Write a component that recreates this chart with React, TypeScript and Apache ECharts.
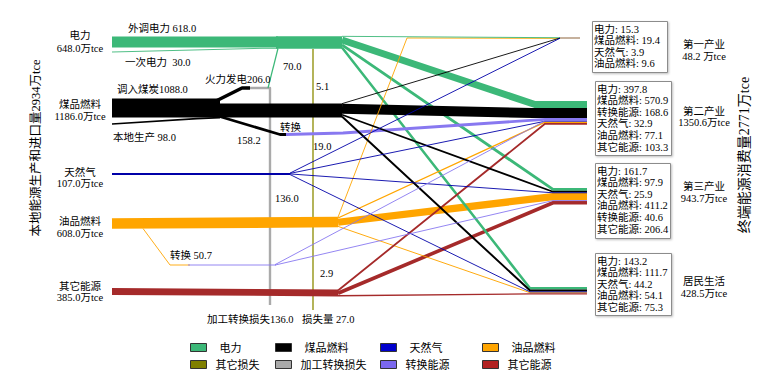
import React, { useEffect, useRef } from 'react';
import * as echarts from 'echarts';

type Pt = [number, number];

// ---------------- DATA ----------------
const sourceNames = ['电力', '煤品燃料', '天然气', '油品燃料', '其它能源'];
const sourceTotals = [648.0, 1186.0, 107.0, 608.0, 385.0];
const sectorNames = ['第一产业', '第二产业', '第三产业', '居民生活'];
const sectorTotals = [48.2, 1350.6, 943.7, 428.5];

const elecImport = 618.0;
const elecPrimary = 30.0;
const coalImport = 1088.0;
const coalLocal = 98.0;
const thermalPower = 206.0;
const thermalToElec = 70.0;
const conversionLoss = 136.0;
const coalToConv = 158.2;
const oilToConv = 50.7;
const otherLosses = [5.1, 19.0, 2.9];
const otherLossTotal = 27.0;
const localTotal = 2934;
const finalTotal = 2771;

// consumption per sector: 第一产业, 第二产业, 第三产业, 居民生活
const elecUse = [15.3, 397.8, 161.7, 143.2];
const coalUse = [19.4, 570.9, 97.9, 111.7];
const gasUse = [3.9, 32.9, 25.9, 44.2];
const oilUse = [9.6, 77.1, 411.2, 54.1];
const convUse = [0, 168.6, 40.6, 0];
const otherUse = [0, 103.3, 206.4, 75.3];

// ---------------- LAYOUT / STYLE ----------------
const K = 1 / 57; // px per 万tce
const MINW = 0.9;
const FONT = "'Liberation Serif', 'Noto Sans CJK SC', serif";
const sum = (a: number[]) => a.reduce((p, c) => p + c, 0);
const wOf = (v: number) => Math.max(v * K, MINW);

const split: Record<string, Pt> = {
  elec: [342, 42.5],
  coal: [342, 110.5],
  gas: [290, 174],
  oil: [338, 222],
  other: [338, 293],
  convOil: [275, 265],
};
const sectorTop = [37.6, 101, 188, 287];
const sectorEnd = [560, 587, 587, 587];
const stackOrder = [
  ['elec', 'coal', 'gas', 'oil'],
  ['elec', 'coal', 'convCoal', 'convOil', 'gas', 'oil', 'other'],
  ['elec', 'coal', 'gas', 'oil', 'convOil', 'other'],
  ['elec', 'coal', 'gas', 'oil', 'other'],
];
const useOf: Record<string, number[]> = {
  elec: elecUse,
  coal: coalUse,
  gas: gasUse,
  oil: oilUse,
  other: otherUse,
  convCoal: [0, coalToConv, 0, 0],
  convOil: convUse.map((v, i) => (i === 1 ? v - coalToConv : v)),
};

function convergeX(s: number, key: string) {
  if (s === 0) return 560;
  if (s === 1) return key === 'elec' ? 535 : key === 'coal' ? 533 : 545;
  if (s === 2) return 553;
  return 530;
}
function slotY(s: number, key: string) {
  let y = sectorTop[s];
  for (const k of stackOrder[s]) {
    const w = useOf[k][s] * K;
    if (k === key) return y + w / 2;
    y += w;
  }
  return y;
}
function srcY(key: string, s: number) {
  const use = useOf[key];
  const cy = split[key][1];
  let y = cy - (sum(use) * K) / 2;
  for (let i = 0; i < s; i++) y += use[i] * K;
  return y + (use[s] * K) / 2;
}
function flows(key: string) {
  const out: { coords: Pt[]; w: number }[] = [];
  useOf[key].forEach((v, s) => {
    if (v <= 0) return;
    const ty = slotY(s, key);
    const cx = convergeX(s, key);
    const via: Pt[] = key === 'oil' && s === 0 ? [[407, 38]] : [];
    const coords: Pt[] = [[split[key][0], srcY(key, s)], ...via, [cx, ty]];
    if (s > 0) coords.push([sectorEnd[s], ty]);
    out.push({ coords, w: v });
  });
  return out;
}

function buildOption() {
  const cats = [
    { key: 'loss', name: '其它损失', color: '#8b8b00', legend: '#808000' },
    { key: 'convLoss', name: '加工转换损失', color: '#aaaaaa', legend: '#a9a9a9' },
    { key: 'oil', name: '油品燃料', color: '#ffa500', legend: '#ffa500' },
    { key: 'other', name: '其它能源', color: '#a52a2a', legend: '#b22222' },
    { key: 'elec', name: '电力', color: '#3cb878', legend: '#3cb878' },
    { key: 'coal', name: '煤品燃料', color: '#000000', legend: '#000000' },
    { key: 'gas', name: '天然气', color: '#0000a8', legend: '#0000cc' },
    { key: 'conv', name: '转换能源', color: '#8878f0', legend: '#7b68ee' },
  ];
  const items: Record<string, { coords: Pt[]; w: number; px?: number }[]> = {
    loss: [{ coords: [[313, 49], [313, 310]], w: 0, px: 1.3 }],
    convLoss: [{ coords: [[246, 88], [270, 88], [270, 305]], w: conversionLoss }],
    elec: [
      { coords: [[112, 42], [278, 42]], w: elecImport },
      { coords: [[112, 52], [262, 48.3], [278, 48.3]], w: elecPrimary },
      { coords: [[268, 88], [278, 48.5]], w: thermalToElec },
      { coords: [[276, 42.5], [342, 42.5]], w: sum(elecUse) },
      ...flows('elec'),
    ],
    coal: [
      { coords: [[112, 108], [220, 108]], w: coalImport },
      { coords: [[112, 124], [197, 118.6], [220, 117.6]], w: coalLocal },
      { coords: [[214, 110.5], [342, 110.5]], w: sum(coalUse) },
      { coords: [[212, 103], [242, 88], [250, 88]], w: thermalPower },
      { coords: [[218, 116], [280, 134.5], [288, 134.5]], w: coalToConv },
      ...flows('coal'),
    ],
    gas: [{ coords: [[112, 174], [290, 174]], w: sourceTotals[2] }, ...flows('gas')],
    oil: [
      { coords: [[112, 223.5], [338, 222]], w: sourceTotals[3] },
      { coords: [[143, 228.5], [170, 265], [190, 265]], w: oilToConv },
      ...flows('oil'),
    ],
    other: [{ coords: [[112, 291.5], [338, 293]], w: sourceTotals[4] }, ...flows('other')],
    conv: [
      {
        coords: [[286, 134.5], [343, 133], [545, slotY(1, 'convCoal')], [587, slotY(1, 'convCoal')]],
        w: coalToConv,
      },
      { coords: [[188, 265], [276, 265]], w: oilToConv },
      ...flows('convOil'),
    ],
  };

  const series: any[] = [];
  cats.forEach((c, ci) => {
    const list = items[c.key];
    const thick = list.filter((d) => (d.px ?? wOf(d.w)) >= 2.5);
    const thin = list.filter((d) => (d.px ?? wOf(d.w)) < 2.5);
    [thick, thin].forEach((grp, gi) => {
      series.push({
        type: 'lines',
        name: c.name,
        coordinateSystem: 'cartesian2d',
        polyline: true,
        silent: true,
        z: ci < 2 ? 1 : 2 + gi,
        lineStyle: { color: c.color, opacity: 1, cap: 'butt', join: 'round' },
        data: grp.map((d) => ({ coords: d.coords, lineStyle: { width: d.px ?? wOf(d.w) } })),
      });
    });
  });
  series.push({
    type: 'lines',
    name: 'first-sector',
    coordinateSystem: 'cartesian2d',
    polyline: true,
    silent: true,
    z: 4,
    lineStyle: { color: '#a07c5c', opacity: 1, width: 1.2 },
    data: [{ coords: [[560, 38], [580, 38]] }],
  });

  const legendPos = [
    { name: '电力', x: 190, y: 342 },
    { name: '煤品燃料', x: 275, y: 342 },
    { name: '天然气', x: 380, y: 342 },
    { name: '油品燃料', x: 482, y: 342 },
    { name: '其它损失', x: 190, y: 359 },
    { name: '加工转换损失', x: 275, y: 359 },
    { name: '转换能源', x: 380, y: 359 },
    { name: '其它能源', x: 482, y: 359 },
  ];
  const legend = legendPos.map((p, i) => {
    const c = cats.find((cc) => cc.name === p.name)!;
    return {
      left: p.x,
      top: p.y,
      padding: 0,
      selectedMode: false,
      icon: 'rect',
      itemWidth: 16,
      itemHeight: 8,
      data: [{ name: p.name, itemStyle: { color: c.legend, borderColor: '#333', borderWidth: 1 } }],
      textStyle: { fontSize: 11, fontFamily: FONT, color: '#000', padding: [0, 0, 0, i < 4 ? 8 : 4] },
    };
  });

  const g: any[] = [];
  const txt = (text: string, x: number, y: number, o: any = {}) =>
    g.push({
      type: 'text',
      x,
      y,
      z: 100,
      silent: true,
      rotation: o.rot || 0,
      style: {
        text,
        fill: '#000',
        fontSize: o.size || 10.5,
        fontFamily: FONT,
        fontWeight: o.weight || 'normal',
        textAlign: o.align || 'left',
        textVerticalAlign: 'middle',
      },
    });

  // left node labels
  const srcLabelY = [[35, 48], [104, 116], [172, 183], [221, 233], [286, 297]];
  sourceNames.forEach((n, i) => {
    txt(n, 80, srcLabelY[i][0], { align: 'center' });
    txt(`${sourceTotals[i].toFixed(1)}万tce`, 80, srcLabelY[i][1], { align: 'center' });
  });
  // flow labels
  txt(`外调电力 ${elecImport.toFixed(1)}`, 128, 28);
  txt(`一次电力  ${elecPrimary.toFixed(1)}`, 125, 62);
  txt(`调入煤炭${coalImport.toFixed(1)}`, 117, 89);
  txt(`火力发电${thermalPower.toFixed(1)}`, 205, 79);
  txt(`本地生产 ${coalLocal.toFixed(1)}`, 113, 137);
  txt(coalToConv.toFixed(1), 237, 140);
  txt('转换', 280, 127);
  txt(thermalToElec.toFixed(1), 283, 66);
  txt(otherLosses[0].toFixed(1), 316, 86);
  txt(otherLosses[1].toFixed(1), 313, 146);
  txt(conversionLoss.toFixed(1), 275, 198);
  txt(`转换 ${oilToConv.toFixed(1)}`, 170, 255);
  txt(otherLosses[2].toFixed(1), 320, 273);
  txt(`加工转换损失${conversionLoss.toFixed(1)}`, 207, 319);
  txt(`损失量 ${otherLossTotal.toFixed(1)}`, 302, 319);

  // titles
  txt(`本地能源生产和进口量${localTotal}万tce`, 36, 148, { align: 'center', rot: Math.PI / 2, size: 12.5 });
  txt(`终端能源消费量${finalTotal}万tce`, 744, 155, { align: 'center', rot: Math.PI / 2, size: 14 });

  // boxes
  const boxes = [
    { x: 592, y: 21, w: 75, h: 51 },
    { x: 595, y: 81, w: 76, h: 74 },
    { x: 595, y: 163, w: 75, h: 75 },
    { x: 595, y: 253, w: 76, h: 62 },
  ];
  const boxOrder = [
    ['elec', 'coal', 'gas', 'oil'],
    ['elec', 'coal', 'conv', 'gas', 'oil', 'other'],
    ['elec', 'coal', 'gas', 'oil', 'conv', 'other'],
    ['elec', 'coal', 'gas', 'oil', 'other'],
  ];
  const keyName: Record<string, string> = {
    elec: '电力', coal: '煤品燃料', gas: '天然气', oil: '油品燃料', conv: '转换能源', other: '其它能源',
  };
  const keyUse: Record<string, number[]> = {
    elec: elecUse, coal: coalUse, gas: gasUse, oil: oilUse, conv: convUse, other: otherUse,
  };
  boxes.forEach((b, s) => {
    g.push({
      type: 'rect',
      z: 90,
      silent: true,
      shape: { x: b.x + 0.5, y: b.y + 0.5, width: b.w, height: b.h },
      style: {
        fill: '#fff',
        stroke: '#8c8c8c',
        lineWidth: 1,
        shadowBlur: 2,
        shadowColor: 'rgba(0,0,0,0.25)',
        shadowOffsetX: 1,
        shadowOffsetY: 1,
      },
    });
    boxOrder[s].forEach((k, i) => {
      txt(`${keyName[k]}: ${keyUse[k][s].toFixed(1)}`, b.x + 2, b.y + 8 + i * 11.6);
    });
  });
  const secLabelY = [[44, 56], [111, 122], [186, 198], [281, 293]];
  sectorNames.forEach((n, s) => {
    txt(n, 704, secLabelY[s][0], { align: 'center' });
    txt(`${sectorTotals[s].toFixed(1)}${s === 0 ? ' ' : ''}万tce`, 704, secLabelY[s][1], { align: 'center' });
  });

  return {
    animation: false,
    backgroundColor: '#fff',
    grid: { left: 0, right: 0, top: 0, bottom: 0, containLabel: false },
    xAxis: { type: 'value', min: 0, max: 769, show: false },
    yAxis: { type: 'value', min: 0, max: 377, inverse: true, show: false },
    legend,
    series,
    graphic: g,
  };
}

export default function App() {
  const ref = useRef<HTMLDivElement>(null);
  useEffect(() => {
    const chart = echarts.init(ref.current!, null, { renderer: 'svg' });
    chart.setOption(buildOption() as any);
    return () => chart.dispose();
  }, []);
  return (
    <div
      ref={ref}
      style={{ position: 'fixed', left: 0, top: 0, width: 769, height: 377, background: '#fff' }}
    />
  );
}
